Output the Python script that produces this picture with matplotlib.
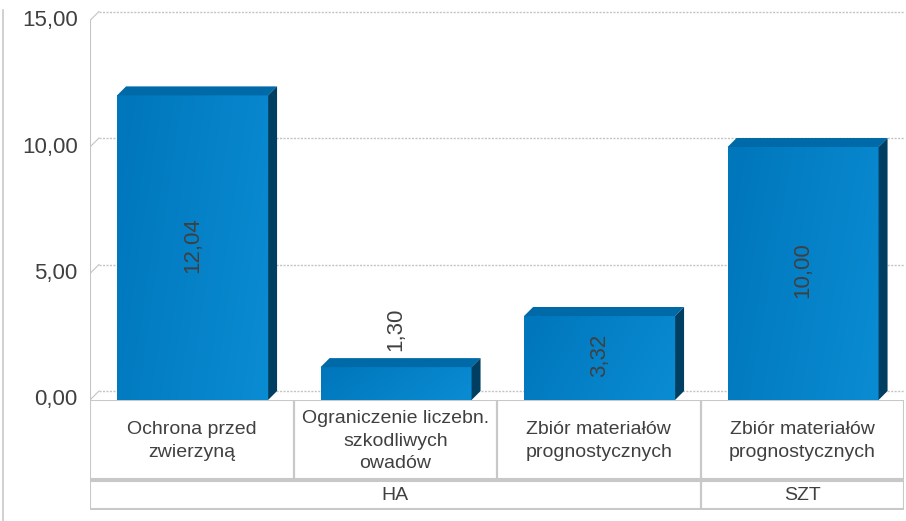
import numpy as np
import matplotlib
matplotlib.use("Agg")
import matplotlib.pyplot as plt
from matplotlib.patches import Polygon, Rectangle
from matplotlib.colors import LinearSegmentedColormap

plt.rcParams['font.family'] = ['Liberation Sans', 'DejaVu Sans']

# dane
categories = ["Ochrona przed\nzwierzyną",
              "Ograniczenie liczebn.\nszkodliwych\nowadów",
              "Zbiór materiałów\nprognostycznych",
              "Zbiór materiałów\nprognostycznych"]
values = [12.04, 1.30, 3.32, 10.00]
groups = ["HA", "SZT"]
group_span = [(0, 3), (3, 4)]
yticks = [0, 5, 10, 15]

W, H = 906, 521
fig = plt.figure(figsize=(W / 100, H / 100), dpi=100)

# osie w pikselach
left, right, bottom_px, top_px = 90, 904, 400, 10
ax = fig.add_axes([left / W, (H - bottom_px) / H, (right - left) / W, (bottom_px - top_px) / H])
px_per_unit = 25.3
ymax = (bottom_px - top_px) / px_per_unit
ax.set_xlim(0, 4)
ax.set_ylim(0, ymax)
ax.axis('off')

cat_px = (right - left) / 4
dx = 9 / cat_px          # głębokość 3D
dy = 9 / px_per_unit
off, bw = 0.133, 0.742

grid_c = '#c4c4c4'
text_c = '#404040'

# siatka na tylnej ścianie
for t in yticks:
    ax.plot([dx, 4], [t + dy, t + dy], color=grid_c, lw=1.0, ls=(0, (1.5, 1)), zorder=1)
    ax.plot([0, dx], [t, t + dy], color=grid_c, lw=0.8, zorder=1)
    ax.text(-0.06, t, f"{t:.2f}".replace('.', ','), ha='right', va='center',
            fontsize=16, color=text_c)
ax.plot([0, 0], [0, 15], color=grid_c, lw=1.5, zorder=2)

cmap = LinearSegmentedColormap.from_list('front', ['#0076bb', '#0a8cd3'])
grad = np.linspace(0, 1, 64)[None, :] + np.linspace(0.3, 0, 64)[:, None]

for i, v in enumerate(values):
    x0 = i + off
    x1 = x0 + bw
    ax.imshow(grad, cmap=cmap, extent=[x0, x1, 0, v], aspect='auto',
              origin='lower', zorder=3, interpolation='bilinear')
    ax.add_patch(Polygon([(x0, v), (x1, v), (x1 + dx, v + dy), (x0 + dx, v + dy)],
                         closed=True, fc='#006aa8', ec='none', zorder=4))
    ax.add_patch(Polygon([(x1, 0), (x1, v), (x1 + dx, v + dy), (x1 + dx, dy)],
                         closed=True, fc='#003f62', ec='none', zorder=4))
    lab = f"{v:.2f}".replace('.', ',')
    if v > 2:
        ax.text((x0 + x1) / 2, v / 2 + 0.12, lab, rotation=90, ha='center', va='center',
                fontsize=16, color=text_c, zorder=5)
    else:
        ax.text((x0 + x1) / 2, v + dy + 0.3, lab, rotation=90, ha='center', va='bottom',
                fontsize=16, color=text_c, zorder=5)

# tabela kategorii
tab = fig.add_axes([left / W, (H - 510) / H, (right - left) / W, 110 / H])
tab.set_xlim(0, 4)
tab.set_ylim(510, 400)
tab.axis('off')
lc = '#c8c8c8'
for i, c in enumerate(categories):
    tab.add_patch(Rectangle((i, 400), 1, 79, fill=False, ec=lc, lw=1.5))
    tab.text(i + 0.5, 441, c, ha='center', va='center', fontsize=14,
             color=text_c, linespacing=1.4)
for g, (a, b) in zip(groups, group_span):
    tab.add_patch(Rectangle((a, 481), b - a, 28, fill=False, ec=lc, lw=1.5))
    tab.text((a + b) / 2, 495, g, ha='center', va='center', fontsize=14, color=text_c)

# lewa ramka
fig.add_artist(plt.Line2D([3 / W, 3 / W], [0, 1 - 10 / H], color='#c8c8c8', lw=1.2))

fig.savefig("out.png", dpi=100)
